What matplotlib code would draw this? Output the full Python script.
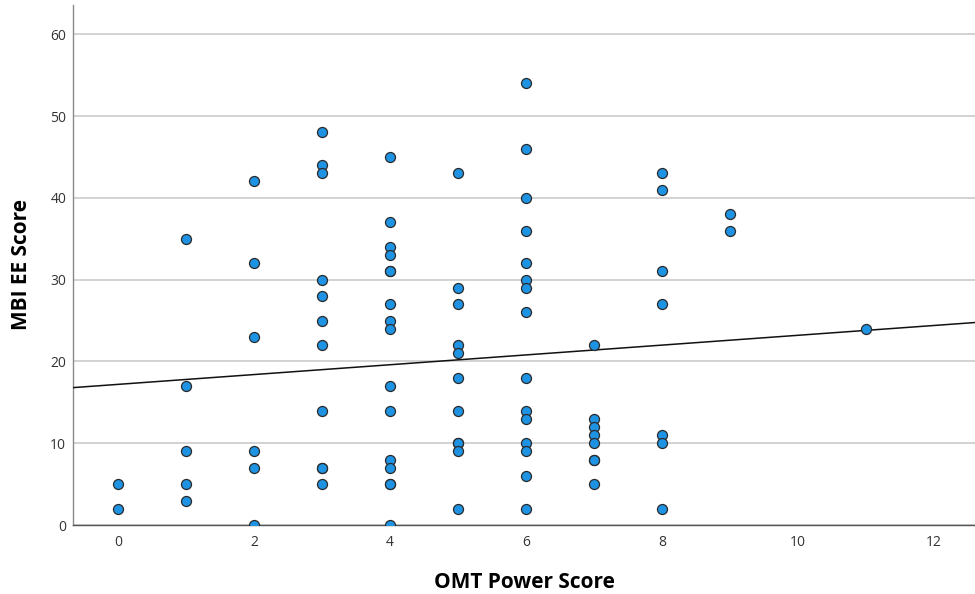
import numpy as np
import matplotlib
matplotlib.use("Agg")
import matplotlib.pyplot as plt

# ── Data: OMT power score vs MBI emotional-exhaustion score ─────────────────
omt_0 = [5, 2]
omt_1 = [35, 17, 9, 5, 3]
omt_2 = [42, 32, 23, 9, 7, 0]
omt_3 = [48, 44, 43, 30, 28, 25, 22, 14, 7, 7, 5]
omt_4 = [45, 37, 34, 33, 31, 31, 27, 25, 24, 17, 14, 8, 7, 5, 5, 0]
omt_5 = [43, 29, 27, 22, 21, 18, 14, 10, 10, 9, 2]
omt_6 = [54, 46, 40, 36, 32, 30, 29, 26, 18, 14, 13, 10, 9, 6, 2]
omt_7 = [22, 13, 12, 11, 10, 8, 8, 5]
omt_8 = [43, 41, 31, 27, 11, 10, 2]
omt_9 = [38, 36]
omt_11 = [24]

groups = {0: omt_0, 1: omt_1, 2: omt_2, 3: omt_3, 4: omt_4, 5: omt_5,
          6: omt_6, 7: omt_7, 8: omt_8, 9: omt_9, 11: omt_11}

x = np.concatenate([[k] * len(v) for k, v in groups.items()]).astype(float)
y = np.concatenate([v for v in groups.values()]).astype(float)

# fit line (total sample, overlapping cases included)
FIT_INTERCEPT = 17.2
FIT_SLOPE = 0.60

X_LIM = (-0.66, 12.6)
Y_LIM = (0, 63.6)

# ── Plot ─────────────────────────────────────────────────────────────────────
plt.rcParams["font.family"] = ["Open Sans", "DejaVu Sans"]

fig = plt.figure(figsize=(9.75, 5.94), dpi=100)
ax = fig.add_axes([0.075, 0.116, 0.925, 0.876])

ax.set_xlim(*X_LIM)
ax.set_ylim(*Y_LIM)

ax.set_yticks([0, 10, 20, 30, 40, 50, 60])
ax.set_xticks([0, 2, 4, 6, 8, 10, 12])
ax.grid(axis="y", color="#d2d2d2", linewidth=1.4, zorder=0)
ax.set_axisbelow(True)

xs = np.array(X_LIM)
ax.plot(xs, FIT_INTERCEPT + FIT_SLOPE * xs, color="#111111", linewidth=1.1, zorder=3)

ax.scatter(x, y, s=52, color="#1f93e3", edgecolors="#2a2a2a",
           linewidths=0.9, zorder=4)

for side in ("top", "right"):
    ax.spines[side].set_visible(False)
ax.spines["left"].set_color("#8a8a8a")
ax.spines["bottom"].set_color("#555555")
ax.spines["left"].set_linewidth(1.0)
ax.spines["bottom"].set_linewidth(1.0)

ax.tick_params(axis="both", length=0, labelsize=10, colors="#333333")
ax.tick_params(axis="x", pad=7)
ax.tick_params(axis="y", pad=5)

ax.set_xlabel("OMT Power Score", fontsize=15, fontweight="bold", labelpad=16)
ax.set_ylabel("MBI EE Score", fontsize=15, fontweight="bold", labelpad=13)

fig.savefig("out.png", dpi=100)
